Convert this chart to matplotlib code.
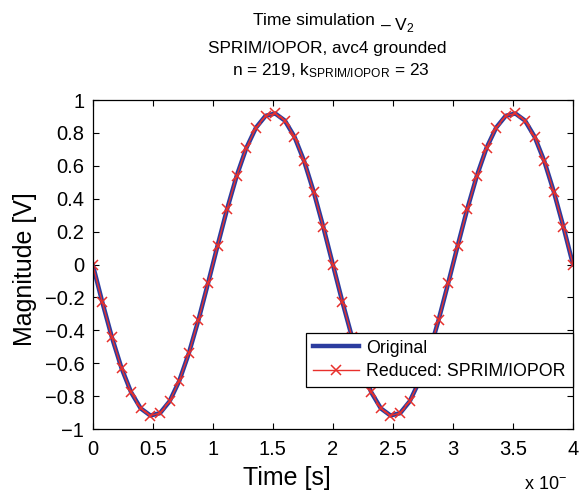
import numpy as np
import matplotlib
matplotlib.use('Agg')
import matplotlib.pyplot as plt
from matplotlib.ticker import FuncFormatter

# — DATA —
time_vals = [0.00, 0.08, 0.16, 0.24, 0.32, 0.40, 0.48, 0.56, 0.64, 0.72,
             0.80, 0.88, 0.96, 1.04, 1.12, 1.20, 1.28, 1.36, 1.44, 1.52,
             1.60, 1.68, 1.76, 1.84, 1.92, 2.00, 2.08, 2.16, 2.24, 2.32,
             2.40, 2.48, 2.56, 2.64, 2.72, 2.80, 2.88, 2.96, 3.04, 3.12,
             3.20, 3.28, 3.36, 3.44, 3.52, 3.60, 3.68, 3.76, 3.84, 3.92,
             4.00]
original_vals = [0.000, -0.229, -0.443, -0.630, -0.777, -0.875, -0.918, -0.904, -0.832, -0.709,
                 -0.541, -0.339, -0.115, 0.115, 0.339, 0.541, 0.709, 0.832, 0.904, 0.918,
                 0.875, 0.777, 0.630, 0.443, 0.229, 0.000, -0.229, -0.443, -0.630, -0.777,
                 -0.875, -0.918, -0.904, -0.832, -0.709, -0.541, -0.339, -0.115, 0.115, 0.339,
                 0.541, 0.709, 0.832, 0.904, 0.918, 0.875, 0.777, 0.630, 0.443, 0.229,
                 0.000]
reduced_vals = list(original_vals)
x_ticks = [0, 0.5, 1, 1.5, 2, 2.5, 3, 3.5, 4]
y_ticks = [-1, -0.8, -0.6, -0.4, -0.2, 0, 0.2, 0.4, 0.6, 0.8, 1]

W, H = 580, 494
plt.rcParams['font.family'] = ['Liberation Sans', 'DejaVu Sans']
plt.rcParams['mathtext.fontset'] = 'custom'
plt.rcParams['mathtext.rm'] = 'Liberation Sans'
plt.rcParams['mathtext.it'] = 'Liberation Sans'

AX_L, AX_R, AX_T, AX_B = 92.7, 573, 100, 429

def fx(px):
    return px / W

def fy(py):
    return 1 - py / H

fig = plt.figure(figsize=(W / 100, H / 100), dpi=100)
ax = fig.add_axes([fx(AX_L), fy(AX_B), (AX_R - AX_L) / W, (AX_B - AX_T) / H])

ax.plot(time_vals, original_vals, color='#2b3c9f', lw=3.2, label='Original')
ax.plot(time_vals, reduced_vals, color='#e8302c', lw=1.0, marker='x', ms=6.5,
        mew=1.1, label='Reduced: SPRIM/IOPOR')

ax.set_xlim(0, 4)
ax.set_ylim(-1, 1)
ax.set_xticks(x_ticks)
ax.set_yticks(y_ticks)
fmt = FuncFormatter(lambda v, p: ('%g' % v).replace('-', '\u2212'))
ax.xaxis.set_major_formatter(fmt)
ax.yaxis.set_major_formatter(fmt)
ax.tick_params(direction='in', top=True, right=True, labelsize=14.5, length=4, width=0.8)
ax.tick_params(axis='y', pad=6)
ax.tick_params(axis='x', pad=8)
for s in ax.spines.values():
    s.set_linewidth(0.9)

ax.set_ylabel('Magnitude [V]', fontsize=18)
ax.yaxis.set_label_coords((37 - AX_L) / (AX_R - AX_L), 0.485)

leg = ax.legend(loc='lower right', bbox_to_anchor=(1.0, (AX_B - 387) / (AX_B - AX_T)),
                fontsize=12.8, frameon=True, fancybox=False, borderaxespad=0,
                handlelength=2.6, handletextpad=0.4, borderpad=0.4, labelspacing=0.35)
leg.get_frame().set_edgecolor('black')
leg.get_frame().set_linewidth(0.9)
leg.get_frame().set_alpha(1)

# titles and labels placed in pixels
fig.text(fx(375), fy(25), 'Time simulation', ha='right', va='baseline', fontsize=12.6)
fig.text(fx(380), fy(30), '\u2013 V$_2$', ha='left', va='baseline', fontsize=12.6)
fig.text(fx(327), fy(53), 'SPRIM/IOPOR, avc4 grounded', ha='center', va='baseline', fontsize=12.4)
fig.text(fx(331), fy(75), 'n = 219, k$_{\\mathrm{SPRIM/IOPOR}}$ = 23', ha='center',
         va='baseline', fontsize=12.4)

fig.text(fx(287), fy(485), 'Time [s]', ha='center', va='baseline', fontsize=18)
fig.text(fx(524), fy(489), 'x 10$^{\u2212}$', ha='left', va='baseline', fontsize=13)

fig.savefig('out.png', dpi=100)
